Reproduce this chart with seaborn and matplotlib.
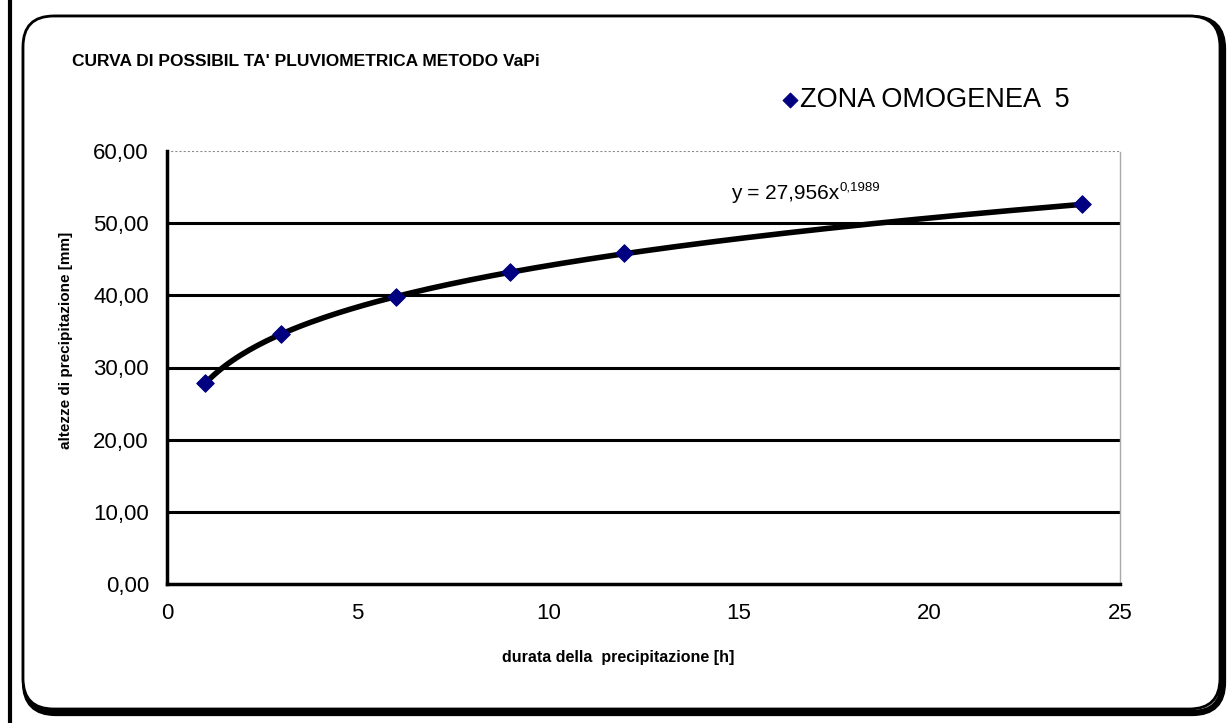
import matplotlib
matplotlib.use("Agg")
import matplotlib.pyplot as plt
import seaborn as sns
import pandas as pd
import numpy as np
from matplotlib.patches import FancyBboxPatch
from matplotlib.lines import Line2D

# values
durata = [1, 3, 6, 9, 12, 24]
altezze = [27.8, 34.6, 39.8, 43.2, 45.8, 52.6]
serie = "ZONA OMOGENEA  5"
y_ticks = [0, 10, 20, 30, 40, 50, 60]
x_ticks = [0, 5, 10, 15, 20, 25]

data = pd.DataFrame({"durata": durata, "altezze": altezze})

# power trend line (like excel), fitted on the points in log-log space
b, log_a = np.polyfit(np.log(data["durata"]), np.log(data["altezze"]), 1)
xx = np.linspace(min(durata), max(durata), 200)
trend = pd.DataFrame({"durata": xx, "altezze": np.exp(log_a) * xx ** b})

sns.set_style("white")
plt.rcParams["font.family"] = ["Liberation Sans", "DejaVu Sans"]
plt.rcParams["text.color"] = "black"
plt.rcParams["axes.labelcolor"] = "black"
plt.rcParams["xtick.color"] = "black"
plt.rcParams["ytick.color"] = "black"

fig = plt.figure(figsize=(12.28, 7.23), dpi=100)
ax = fig.add_axes([167 / 1228, 1 - 584 / 723, 953 / 1228, 433 / 723])
ax.set_zorder(2)
ax.patch.set_alpha(0)

# outer rounded frame + shadow + left bar
shadow = FancyBboxPatch((25 / 1228, 1 - 713 / 723), 1198 / 1228, 695 / 723,
                        boxstyle="round,pad=0,rounding_size=0.025",
                        transform=fig.transFigure, fill=False, ec="black", lw=4.5,
                        mutation_aspect=1228 / 723, zorder=-3)
frame = FancyBboxPatch((23 / 1228, 1 - 709 / 723), 1197 / 1228, 693 / 723,
                       boxstyle="round,pad=0,rounding_size=0.025",
                       transform=fig.transFigure, fill=True, fc="white", ec="black", lw=2,
                       mutation_aspect=1228 / 723, zorder=-2)
fig.patches.extend([shadow, frame])
fig.add_artist(Line2D([9.5 / 1228, 9.5 / 1228], [0, 1], transform=fig.transFigure,
                      color="black", lw=3))

# gridlines
for yv in y_ticks[1:-1]:
    ax.axhline(yv, color="black", lw=2.2, zorder=1)
ax.axhline(60, color="#888888", lw=1.5, ls=(0, (1, 1)), zorder=1)

sns.lineplot(data=trend, x="durata", y="altezze", ax=ax, color="black", lw=4, zorder=2)
sns.scatterplot(data=data, x="durata", y="altezze", ax=ax, marker="D", s=80,
                color="#000080", edgecolor="#000080", label=serie, zorder=3)

ax.set_xlim(0, 25)
ax.set_ylim(0, 60)
ax.set_xticks(x_ticks)
ax.set_yticks(y_ticks)
ax.set_yticklabels([f"{v:.2f}".replace(".", ",") for v in y_ticks])
ax.tick_params(axis="both", labelsize=16, length=7, width=2.5, color="black",
               labelcolor="black", direction="out")
ax.tick_params(axis="x", pad=7)
ax.tick_params(axis="y", pad=6)

for s in ["left", "bottom"]:
    ax.spines[s].set_color("black")
    ax.spines[s].set_linewidth(2.5)
ax.spines["top"].set_visible(False)
ax.spines["right"].set_color("#aaaaaa")
ax.spines["right"].set_linewidth(1)
ax.spines["right"].set_linestyle((0, (1, 1)))

ax.set_xlabel("durata della  precipitazione [h]", fontsize=11.5, fontweight="bold")
ax.xaxis.set_label_coords((618 - 167) / 953, -(650 - 584) / 433)
ax.set_ylabel("altezze di precipitazione [mm]", fontsize=11, fontweight="bold")
ax.yaxis.set_label_coords(-(167 - 73) / 953, (584 - 340) / 433)

fig.text(72 / 1228, 1 - 61 / 723, "CURVA DI POSSIBIL TA' PLUVIOMETRICA METODO VaPi",
         fontsize=12.5, fontweight="bold", va="center", ha="left")

# trend line equation
eq = ax.text(14.8, 53.3, "y = 27,956x", fontsize=15, va="baseline", ha="left")
ax.annotate("0,1989", xy=(1, 0.5), xycoords=eq, fontsize=9.5, va="bottom", ha="left")

leg = ax.legend(loc="center left", bbox_to_anchor=((768 - 167) / 953, (584 - 100) / 433),
                frameon=False, fontsize=19.5, handletextpad=0.1, markerscale=0.85,
                handlelength=0.6, borderpad=0)

fig.savefig("out.png", dpi=100)
